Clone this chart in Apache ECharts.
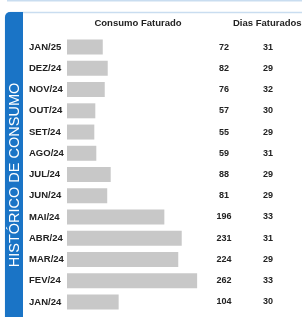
<!DOCTYPE html>
<html>
<head>
<meta charset="utf-8">
<script src="https://cdn.jsdelivr.net/npm/echarts@6/dist/echarts.min.js"></script>
<style>
  html, body { margin: 0; padding: 0; background: #fff; }
  #historico { width: 302px; height: 317px; }
</style>
</head>
<body>
<div id="historico"></div>
<script>
// meses (mais recente em cima)
const meses = ['JAN/25', 'DEZ/24', 'NOV/24', 'OUT/24', 'SET/24', 'AGO/24', 'JUL/24',
  'JUN/24', 'MAI/24', 'ABR/24', 'MAR/24', 'FEV/24', 'JAN/24']
const consumoFaturado = [72, 82, 76, 57, 55, 59, 88, 81, 196, 231, 224, 262, 104]
const diasFaturados = [31, 29, 32, 30, 29, 31, 29, 29, 33, 31, 29, 33, 30]

const corAzul = '#1a74c6'
const corBorda = '#c9ddf0'
const fonte = 'Liberation Sans, Arial, sans-serif'

const chart = echarts.init(document.getElementById('historico'))

const option = {
  animation: false,
  grid: {
    left: 67,
    width: 149,
    top: 36.5,
    height: 276
  },
  xAxis: {
    type: 'value',
    min: 0,
    max: 300,
    show: false
  },
  yAxis: [
    {
      type: 'category',
      inverse: true,
      data: meses,
      axisLine: { show: false },
      axisTick: { show: false },
      axisLabel: {
        align: 'left',
        margin: 38,
        fontSize: 9.5,
        fontWeight: 'bold',
        fontFamily: fonte,
        color: '#222'
      }
    },
    {
      // coluna consumo faturado
      type: 'category',
      inverse: true,
      position: 'right',
      data: consumoFaturado.map(v => String(v)),
      axisLine: { show: false },
      axisTick: { show: false },
      axisLabel: {
        align: 'center',
        margin: 8,
        fontSize: 9,
        fontWeight: 'bold',
        fontFamily: fonte,
        color: '#222'
      }
    },
    {
      // coluna dias faturados
      type: 'category',
      inverse: true,
      position: 'right',
      data: diasFaturados.map(v => String(v)),
      axisLine: { show: false },
      axisTick: { show: false },
      axisLabel: {
        align: 'center',
        margin: 52,
        fontSize: 9,
        fontWeight: 'bold',
        fontFamily: fonte,
        color: '#222'
      }
    }
  ],
  series: [
    {
      type: 'bar',
      yAxisIndex: 0,
      data: consumoFaturado,
      barWidth: 15,
      itemStyle: { color: '#c8c8c8' },
      silent: true
    }
  ],
  graphic: [
    // borda do card anterior
    { type: 'rect', shape: { x: 7, y: -1, width: 300, height: 2.5 }, style: { fill: corBorda }, silent: true },
    // borda do card
    {
      type: 'rect',
      shape: { x: 5.5, y: 12.5, width: 305, height: 320, r: 5 },
      style: { fill: 'none', stroke: corBorda, lineWidth: 1.5 },
      silent: true
    },
    // faixa azul lateral
    {
      type: 'rect',
      shape: { x: 5, y: 12, width: 18, height: 320, r: [5, 0, 0, 0] },
      style: { fill: corAzul },
      silent: true
    },
    {
      type: 'text',
      x: 15,
      y: 175,
      rotation: Math.PI / 2,
      style: {
        text: 'HISTÓRICO DE CONSUMO',
        fill: '#fff',
        font: '14.5px ' + fonte,
        align: 'center',
        verticalAlign: 'middle'
      },
      silent: true
    },
    {
      type: 'text',
      x: 138,
      y: 23,
      style: {
        text: 'Consumo Faturado',
        fill: '#222',
        font: 'bold 9.5px ' + fonte,
        align: 'center',
        verticalAlign: 'middle'
      },
      silent: true
    },
    {
      type: 'text',
      x: 233,
      y: 23,
      style: {
        text: 'Dias Faturados',
        fill: '#222',
        font: 'bold 9.5px ' + fonte,
        align: 'left',
        verticalAlign: 'middle'
      },
      silent: true
    }
  ]
}

chart.setOption(option)
</script>
</body>
</html>
